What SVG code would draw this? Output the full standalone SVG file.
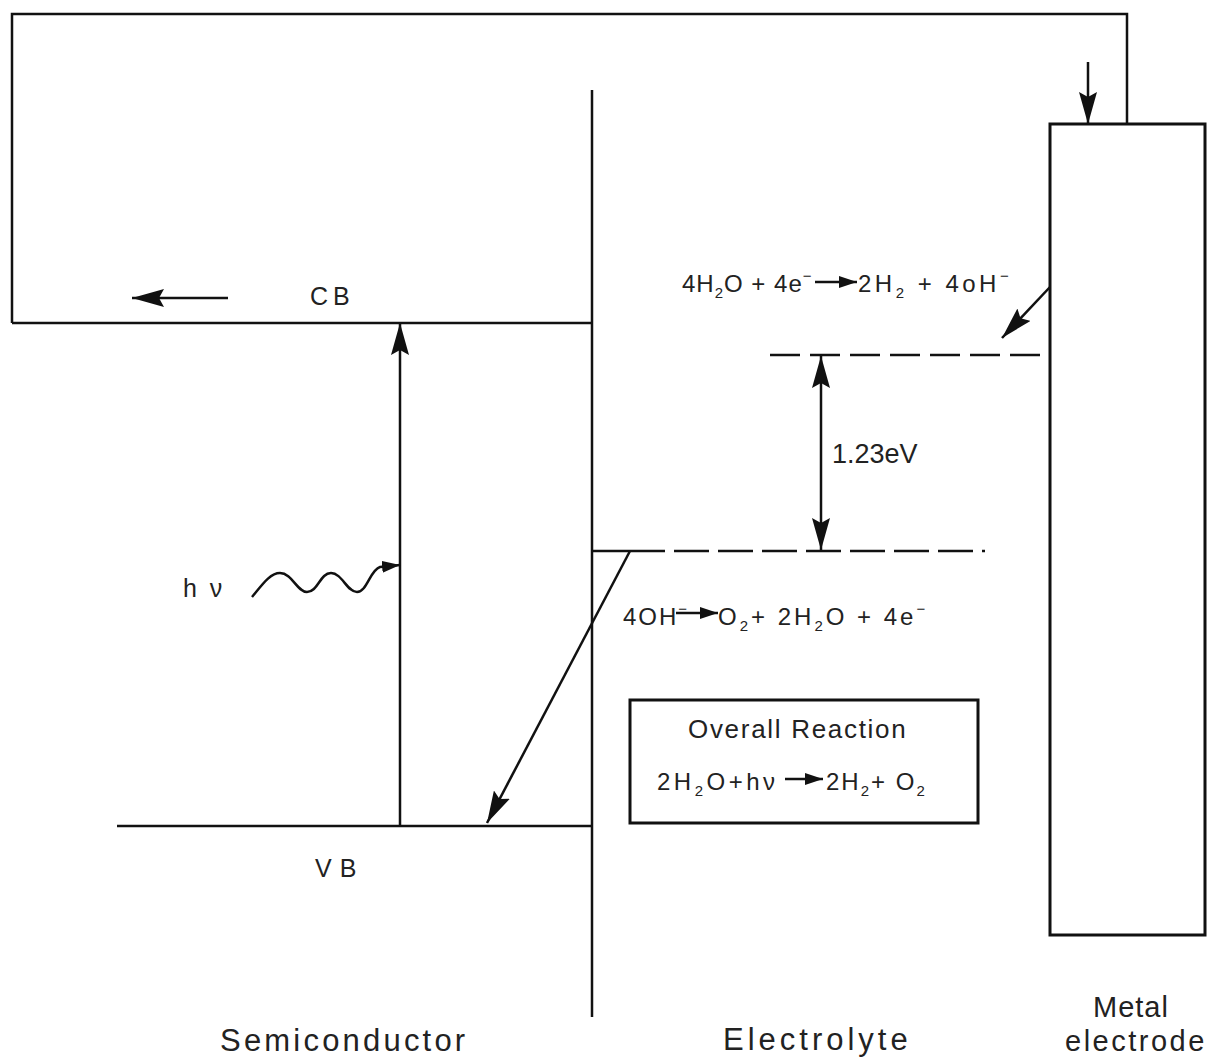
<svg xmlns="http://www.w3.org/2000/svg" width="1221" height="1058" viewBox="0 0 1221 1058">
<style>
.ln{stroke:#111;stroke-width:2.5;fill:none}
.thk{stroke:#111;stroke-width:3;fill:none}
.dash{stroke-dasharray:30 10}
text{font-family:"Liberation Sans","DejaVu Sans",sans-serif;fill:#222}
.lbl{font-size:31px}
.sm{font-size:25px}
.rx{font-size:24px}
.sb{font-size:15px}
</style>
<defs>
<marker id="ah" viewBox="0 0 32 18" markerWidth="32" markerHeight="18" refX="32" refY="9" orient="auto-start-reverse" markerUnits="userSpaceOnUse">
<path d="M0,0 L32,9 L0,18 L5,9 Z" fill="#111"/>
</marker>
<marker id="as" viewBox="0 0 18 12" markerWidth="18" markerHeight="12" refX="18" refY="6" orient="auto" markerUnits="userSpaceOnUse">
<path d="M0,0 L18,6 L0,12 Z" fill="#111"/>
</marker>
</defs>
<rect width="1221" height="1058" fill="#fff"/>

<g id="semiconductor">
<path class="ln" d="M12,323 H592"/>
<path class="ln" d="M117,826 H593"/>
<text class="sm" x="310" y="305" letter-spacing="5">CB</text>
<text class="sm" x="315" y="877" letter-spacing="8">VB</text>
<text class="sm" x="183" y="597" letter-spacing="3">h ν</text>
<text class="lbl" x="220" y="1051" letter-spacing="3.2">Semiconductor</text>
</g>

<g id="interface">
<path class="ln" d="M592,90 V1017"/>
</g>

<g id="electrolyte">
<path class="ln dash" d="M770,355 H1050"/>
<path class="ln" d="M593,551 H630"/>
<path class="ln" d="M630,551 H985" stroke-dasharray="35 9"/>
<text x="832" y="463" font-size="27">1.23eV</text>
<text class="rx" x="682" y="292" letter-spacing="1">4H<tspan class="sb" dy="6">2</tspan><tspan dy="-6">O + 4e</tspan><tspan class="sb" dy="-11">−</tspan></text>
<text class="rx" x="858" y="292" letter-spacing="3.5">2H<tspan class="sb" dy="6">2</tspan><tspan dy="-6"> + 4oH</tspan><tspan class="sb" dy="-11">−</tspan></text>
<text class="rx" x="623" y="625" letter-spacing="2">4OH<tspan class="sb" dy="-11">−</tspan></text>
<text class="rx" x="718" y="625" letter-spacing="3">O<tspan class="sb" dy="6">2</tspan><tspan dy="-6">+ 2H</tspan><tspan class="sb" dy="6">2</tspan><tspan dy="-6">O + 4e</tspan><tspan class="sb" dy="-11">−</tspan></text>
<text class="lbl" x="723" y="1050" letter-spacing="4">Electrolyte</text>
</g>

<g id="overall-reaction">
<rect class="thk" x="630" y="700" width="348" height="123"/>
<text x="688" y="738" font-size="26" letter-spacing="1.7">Overall Reaction</text>
<text class="rx" x="657" y="790" letter-spacing="3.5">2H<tspan class="sb" dy="6">2</tspan><tspan dy="-6">O+hν</tspan></text>
<text class="rx" x="826" y="790" letter-spacing="2">2H<tspan class="sb" dy="6">2</tspan><tspan dy="-6">+ O</tspan><tspan class="sb" dy="6">2</tspan></text>
</g>

<g id="metal-electrode">
<rect class="thk" x="1050" y="124" width="155" height="811"/>
<text x="1093" y="1017" font-size="29" letter-spacing="1">Metal</text>
<text x="1065" y="1051" font-size="29" letter-spacing="2.5">electrode</text>
</g>

<g id="connectors">
<path class="ln" d="M1127,124 V14 H12 V323"/>
<path class="ln" d="M1088,62 V124" marker-end="url(#ah)"/>
<path class="ln" d="M228,298 H132" marker-end="url(#ah)"/>
<path class="ln" d="M400,825 V323" marker-end="url(#ah)"/>
<path class="ln" d="M252,597 C262,585 270,573 280,573 C292,573 297,592 307,592 C318,592 320,573 331,573 C342,573 347,592 357,592 C367,592 370,570 380,567 L400,565" marker-end="url(#as)"/>
<path class="ln" d="M1050,287 L1002,338" marker-end="url(#ah)"/>
<path class="ln" d="M821,356 V550" marker-start="url(#ah)" marker-end="url(#ah)"/>
<path class="ln" d="M630,551 L487,823" marker-end="url(#ah)"/>
<path class="ln" d="M815,282 H857" marker-end="url(#as)"/>
<path class="ln" d="M676,613 H718" marker-end="url(#as)"/>
<path class="ln" d="M785,779 H823" marker-end="url(#as)"/>
</g>
</svg>
